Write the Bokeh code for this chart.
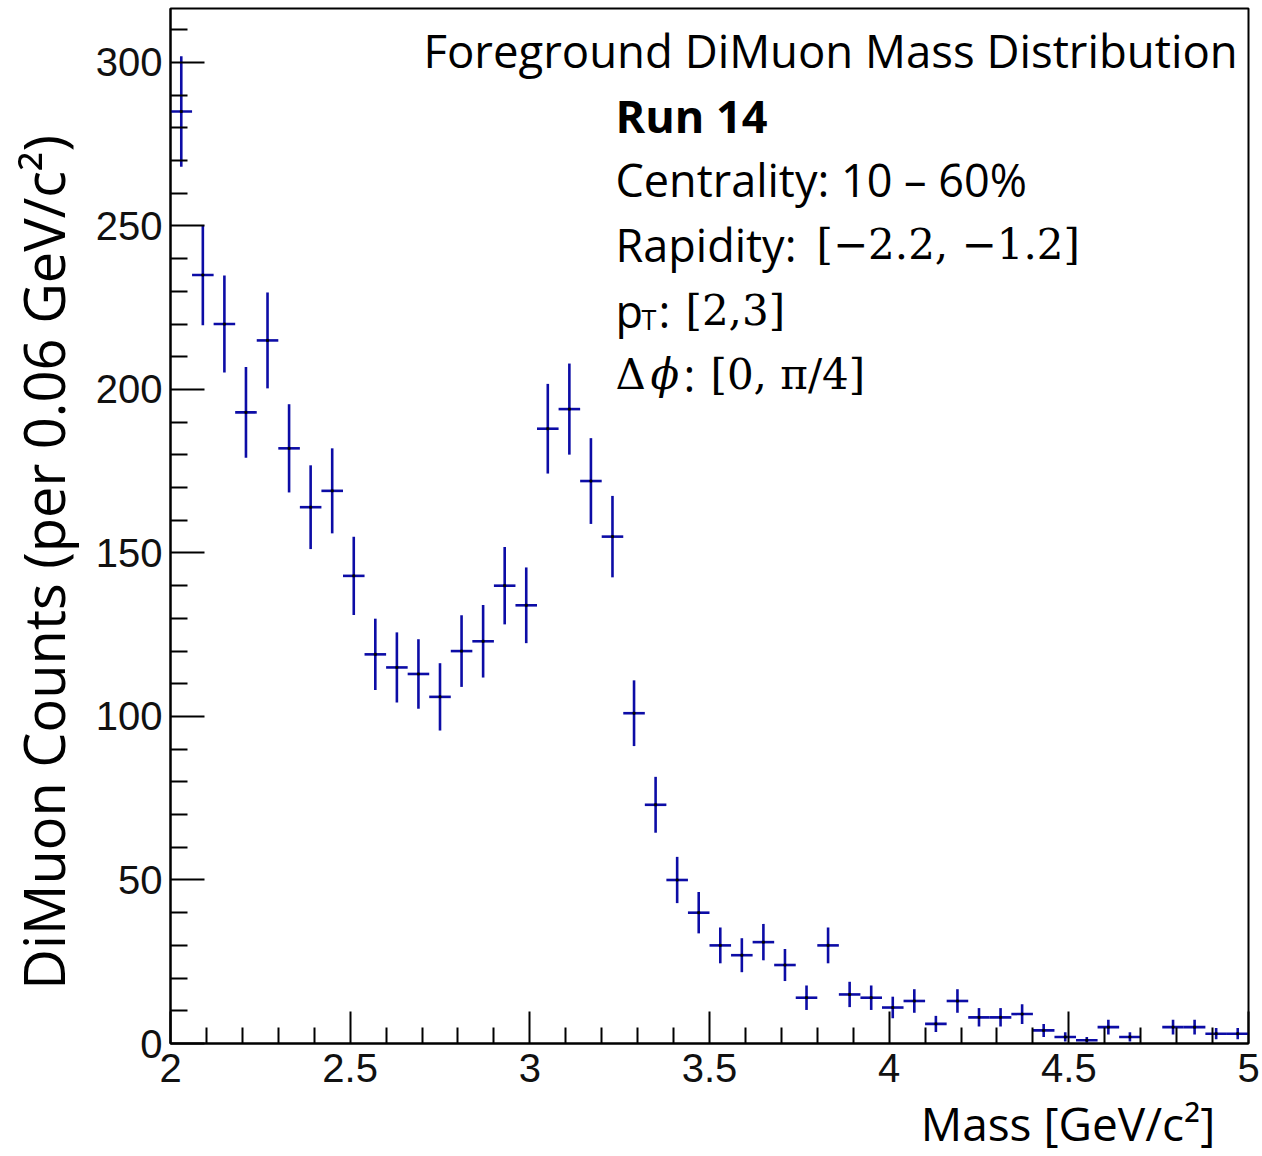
import numpy as np
from bokeh.plotting import figure
from bokeh.models import Label, FixedTicker, Range1d, ColumnDataSource
from bokeh.embed import file_html
from bokeh.resources import INLINE

# ---------------- data ----------------
BIN_LOW = 2.0
BIN_WIDTH = 0.06
COUNTS = [285, 235, 220, 193, 215, 182, 164, 169, 143, 119,
          115, 113, 106, 120, 123, 140, 134, 188, 194, 172,
          155, 101, 73, 50, 40, 30, 27, 31, 24, 14,
          30, 15, 14, 11, 13, 6, 13, 8, 8, 9,
          4, 2, 1, 5, 2, 0, 5, 5, 3, 3]
X_TICKS = [2.0, 2.5, 3.0, 3.5, 4.0, 4.5, 5.0]
X_TICK_LABELS = ["2", "2.5", "3", "3.5", "4", "4.5", "5"]
X_MINOR = [2.1, 2.2, 2.3, 2.4, 2.6, 2.7, 2.8, 2.9, 3.1, 3.2, 3.3, 3.4,
           3.6, 3.7, 3.8, 3.9, 4.1, 4.2, 4.3, 4.4, 4.6, 4.7, 4.8, 4.9]
Y_TICKS = [0, 50, 100, 150, 200, 250, 300]
Y_MINOR = [10, 20, 30, 40, 60, 70, 80, 90, 110, 120, 130, 140, 160, 170,
           180, 190, 210, 220, 230, 240, 260, 270, 280, 290, 310]
X_MIN, X_MAX = 2.0, 5.0
Y_MIN, Y_MAX = 0.0, 316.5
X_TITLE = "Mass [GeV/c\u00b2]"
Y_TITLE = "DiMuon Counts (per 0.06 GeV/c\u00b2)"

# ---------------- layout ----------------
W, H = 1262, 1156
BL, BR, BT, BB = 170, 14, 8, 113
FRAME_W = W - BL - BR
FRAME_H = H - BT - BB
BASE_FIX = 16  # baseline correction for label placement


def dx(px):
    return X_MIN + (px - BL) * (X_MAX - X_MIN) / FRAME_W


def dy(py):
    return Y_MIN + (H - BB - (py - BASE_FIX)) * (Y_MAX - Y_MIN) / FRAME_H


p = figure(width=W, height=H, x_range=Range1d(X_MIN, X_MAX), y_range=Range1d(Y_MIN, Y_MAX),
           output_backend="svg", toolbar_location=None,
           min_border_left=BL, min_border_right=BR, min_border_top=BT, min_border_bottom=BB)
p.grid.visible = False
p.background_fill_color = "white"
p.border_fill_color = "white"
p.outline_line_color = "black"
p.outline_line_width = 2

p.xaxis.ticker = FixedTicker(ticks=X_TICKS, minor_ticks=X_MINOR)
p.xaxis.major_label_overrides = dict(zip(X_TICKS, X_TICK_LABELS))
p.yaxis.ticker = FixedTicker(ticks=Y_TICKS, minor_ticks=Y_MINOR)
for ax, tin, tmin, standoff in ((p.xaxis, 32, 16, 10), (p.yaxis, 34, 17, 8)):
    ax.major_tick_in = tin
    ax.major_tick_out = 0
    ax.minor_tick_in = tmin
    ax.minor_tick_out = 0
    ax.axis_line_width = 2
    ax.major_tick_line_width = 2
    ax.minor_tick_line_width = 2
    ax.axis_line_color = "black"
    ax.major_tick_line_color = "black"
    ax.minor_tick_line_color = "black"
    ax.major_label_text_font = "Liberation Sans"
    ax.major_label_text_font_size = "40px"
    ax.major_label_text_color = "#111111"
    ax.major_label_standoff = standoff
    ax.axis_label_text_font = "Open Sans"
    ax.axis_label_text_font_style = "normal"
    ax.axis_label_text_color = "black"

# axis titles (leading / trailing no-break spaces shift the centred title)
xa = p.xaxis[0]
xa.axis_label = "\u00a0" * 60 + X_TITLE
xa.axis_label_text_font_size = "46px"
xa.axis_label_standoff = 7

ya = p.yaxis[0]
ya.axis_label = Y_TITLE + "\u00a0" * 5
ya.axis_label_text_font_size = "56px"
ya.axis_label_standoff = 12

# ---------------- histogram points with errors ----------------
counts = np.array(COUNTS, dtype=float)
centers = BIN_LOW + BIN_WIDTH * (np.arange(len(counts)) + 0.5)
mask = counts > 0
x = centers[mask]
y = counts[mask]
err = np.sqrt(y)
src = ColumnDataSource(dict(x=x, y=y, lo=y - err, hi=y + err,
                            left=x - BIN_WIDTH / 2, right=x + BIN_WIDTH / 2))
BLUE = "#0c0ca6"
p.segment(x0="x", y0="lo", x1="x", y1="hi", source=src, line_color=BLUE, line_width=2.6)
p.segment(x0="left", y0="y", x1="right", y1="y", source=src, line_color=BLUE, line_width=2.6)
p.scatter(x="x", y="y", source=src, marker="square", size=2, color="black")

# ---------------- texts ----------------
SANS = "Open Sans"
SERIF = "DejaVu Serif"


def label(text, px, py, size, font=SANS, style="normal", align="left"):
    p.add_layout(Label(x=dx(px), y=dy(py), text=text, text_font=font,
                       text_font_size=f"{size}px", text_font_style=style,
                       text_align=align, text_baseline="alphabetic",
                       text_color="black"))


label("Foreground DiMuon Mass Distribution", 423, 65, 45.5)
label("Run 14", 615, 131, 45, style="bold")
label("Centrality: 10 \u2013 60%", 615, 195, 45)
label("Rapidity: ", 615, 260, 45)
label("[\u22122.2, \u22121.2]", 816, 260, 42, font=SERIF)
label("p", 615, 326, 45)
label("T", 641, 335, 27)
label(":", 658, 326, 45)
label("[2,3]", 685, 326, 42, font=SERIF)
label("\u0394", 615, 390, 42, font=SERIF)
label("\u03d5", 650, 390, 42, font=SERIF, style="italic")
label(":", 683, 390, 45)
label("[0, \u03c0/4]", 710, 390, 42, font=SERIF)

open("out.html", "w").write(file_html(p, INLINE))
